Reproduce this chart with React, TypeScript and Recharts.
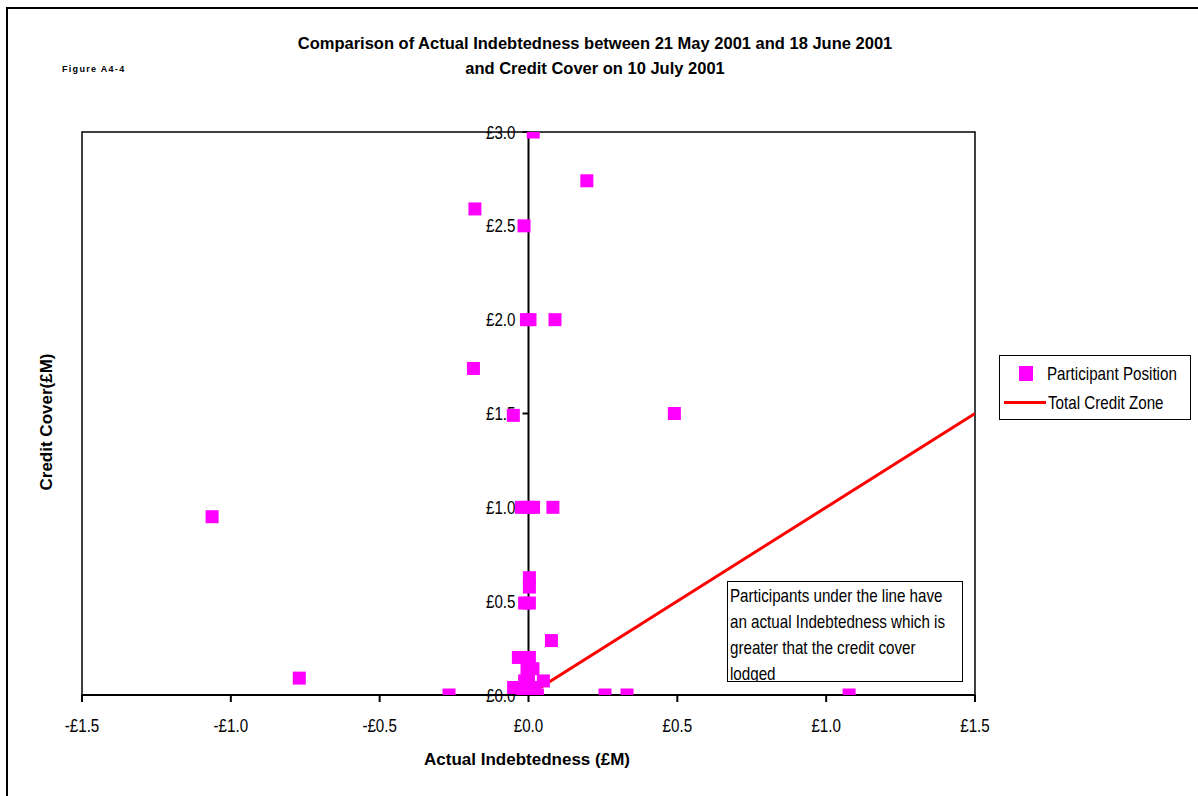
import React from 'react';
import { ScatterChart, Scatter, XAxis, YAxis, ReferenceLine, ReferenceDot, ReferenceArea } from 'recharts';

const xTicks = [-1.5, -1.0, -0.5, 0.0, 0.5, 1.0, 1.5];
const yTicks = [0.0, 0.5, 1.0, 1.5, 2.0, 2.5, 3.0];

const participantX = [
  0.016, 0.196, -0.18, -0.015, -0.007, 0.005, 0.089, -0.185, -0.051, 0.49,
  -1.063, -0.024, 0.0, 0.017, 0.082, 0.003, 0.003, -0.013, 0.003, 0.077,
  -0.77, -0.267, 0.257, 0.331, 1.077, -0.034, 0.003, -0.005, 0.015, -0.013,
  0.05, -0.05, -0.02, 0.01, 0.03, 0.02, 0.0,
];
const participantY = [
  3.0, 2.74, 2.59, 2.5, 2.0, 2.0, 2.0, 1.74, 1.49, 1.5,
  0.95, 1.0, 1.0, 1.0, 1.0, 0.625, 0.575, 0.49, 0.49, 0.29,
  0.09, 0.0, 0.0, 0.0, 0.0, 0.2, 0.2, 0.14, 0.14, 0.075,
  0.075, 0.04, 0.02, 0.0, 0.0, 0.04, 0.1,
];
const zoneX = [0.0, 1.5];
const zoneY = [0.0, 1.5];

const participants = participantX.map((x, i) => ({ x, y: participantY[i] }));
const zone = zoneX.map((x, i) => ({ x, y: zoneY[i] }));

const MAGENTA = '#FF00FF';
const RED = '#FF0000';
const FONT = '"Liberation Sans", Arial, sans-serif';
const NARROW = 0.82;

const fmt = (v: number) => (v < 0 ? '-£' : '£') + Math.abs(v).toFixed(1);

const Square = (props: any) => {
  const { cx, cy } = props;
  if (cx == null || cy == null) return null;
  return <rect x={cx - 6.5} y={cy - 6.5} width={13} height={13} fill={MAGENTA} />;
};

const XTick = (props: any) => {
  const { x, y, payload } = props;
  return (
    <text transform={`translate(${x},${y}) scale(${NARROW},1)`} x={0} y={0} dy="0.72em" textAnchor="middle" fill="#000" fontSize={18.5} fontFamily={FONT}>
      {fmt(payload.value)}
    </text>
  );
};

const yLabel = (v: number) => (props: any) => {
  const vb = props.viewBox || {};
  const x = (vb.x ?? 0) + (vb.width ?? 0) / 2 - 13;
  const y = (vb.y ?? 0) + (vb.height ?? 0) / 2;
  return (
    <text transform={`translate(${x},${y}) scale(${NARROW},1)`} x={0} y={0} dy="0.36em" textAnchor="end" fill="#000" fontSize={18.5} fontFamily={FONT}>
      {fmt(v)}
    </text>
  );
};

const narrowStyle: React.CSSProperties = { transform: `scaleX(${NARROW})`, transformOrigin: 'left center', whiteSpace: 'nowrap' };

export default function App() {
  return (
    <div style={{ position: 'absolute', left: 0, top: 0, width: 1198, height: 796, overflow: 'hidden', background: '#fff', fontFamily: FONT }}>
      <div style={{ position: 'absolute', left: 6, top: 7, width: 1192, height: 2, background: '#000' }} />
      <div style={{ position: 'absolute', left: 6, top: 7, width: 2, height: 789, background: '#000' }} />
      <div style={{ position: 'absolute', left: 0, width: 1190, top: 31, textAlign: 'center', fontWeight: 'bold', fontSize: 16.5, lineHeight: '25px', color: '#000' }}>
        Comparison of Actual Indebtedness between 21 May 2001 and 18 June 2001
        <br />
        and Credit Cover on 10 July 2001
      </div>
      <div style={{ position: 'absolute', left: 62, top: 64, fontWeight: 'bold', fontSize: 9, letterSpacing: 1.3, color: '#000' }}>Figure A4-4</div>
      <div style={{ position: 'absolute', left: 47, top: 422, transform: 'translate(-50%, -50%) rotate(-90deg)', whiteSpace: 'nowrap', fontWeight: 'bold', fontSize: 17, color: '#000' }}>Credit Cover(£M)</div>
      <div style={{ position: 'absolute', left: 527, top: 760, transform: 'translate(-50%, -50%)', whiteSpace: 'nowrap', fontWeight: 'bold', fontSize: 17, color: '#000' }}>Actual Indebtedness (£M)</div>

      <div style={{ position: 'absolute', left: 0, top: 0, width: 1000, height: 796 }}>
        <ScatterChart width={1000} height={796} margin={{ left: 82, top: 132, right: 25, bottom: 71 }}>
          <XAxis
            dataKey="x"
            type="number"
            domain={[-1.5, 1.5]}
            ticks={xTicks}
            height={30}
            axisLine={{ stroke: '#000', strokeWidth: 2 }}
            tickLine={{ stroke: '#000', strokeWidth: 2 }}
            tickSize={7}
            tickMargin={17}
            tick={<XTick />}
            allowDataOverflow
          />
          <YAxis dataKey="y" type="number" domain={[0, 3]} ticks={yTicks} hide allowDataOverflow />
          <ReferenceArea x1={-1.5} x2={1.5} y1={0} y2={3} fill="none" stroke="#000" strokeWidth={1.5} />
          <ReferenceLine x={0} stroke="#000" strokeWidth={2} />
          {yTicks.map((v) => (
            <ReferenceLine key={'t' + v} segment={[{ x: -0.02, y: v }, { x: 0, y: v }]} stroke="#000" strokeWidth={2} />
          ))}
          {yTicks.map((v) => (
            <ReferenceDot key={'l' + v} x={0} y={v} r={0} fill="none" stroke="none" label={{ content: yLabel(v) }} />
          ))}
          <Scatter data={zone} line={{ stroke: RED, strokeWidth: 3 }} shape={() => null} isAnimationActive={false} />
          <Scatter data={participants} shape={Square} isAnimationActive={false} />
        </ScatterChart>
      </div>

      <div style={{ position: 'absolute', left: 727, top: 581, width: 234, height: 99, border: '1.5px solid #000', background: '#fff', overflow: 'hidden', color: '#000' }}>
        <div style={{ ...narrowStyle, position: 'absolute', left: 2, top: 1, fontSize: 18.5, lineHeight: '26px', transformOrigin: 'left top' }}>
          Participants under the line have
          <br />
          an actual Indebtedness which is
          <br />
          greater that the credit cover
          <br />
          lodged
        </div>
      </div>

      <div style={{ position: 'absolute', left: 999, top: 355, width: 190, height: 63, border: '1.5px solid #000', background: '#fff', fontSize: 18.5, color: '#000' }}>
        <div style={{ position: 'absolute', left: 19, top: 10, width: 14, height: 15, background: MAGENTA }} />
        <div style={{ ...narrowStyle, position: 'absolute', left: 47, top: 7, lineHeight: '22px' }}>Participant Position</div>
        <div style={{ position: 'absolute', left: 4, top: 45, width: 42, height: 3, background: RED }} />
        <div style={{ ...narrowStyle, position: 'absolute', left: 48, top: 36, lineHeight: '22px' }}>Total Credit Zone</div>
      </div>
    </div>
  );
}
